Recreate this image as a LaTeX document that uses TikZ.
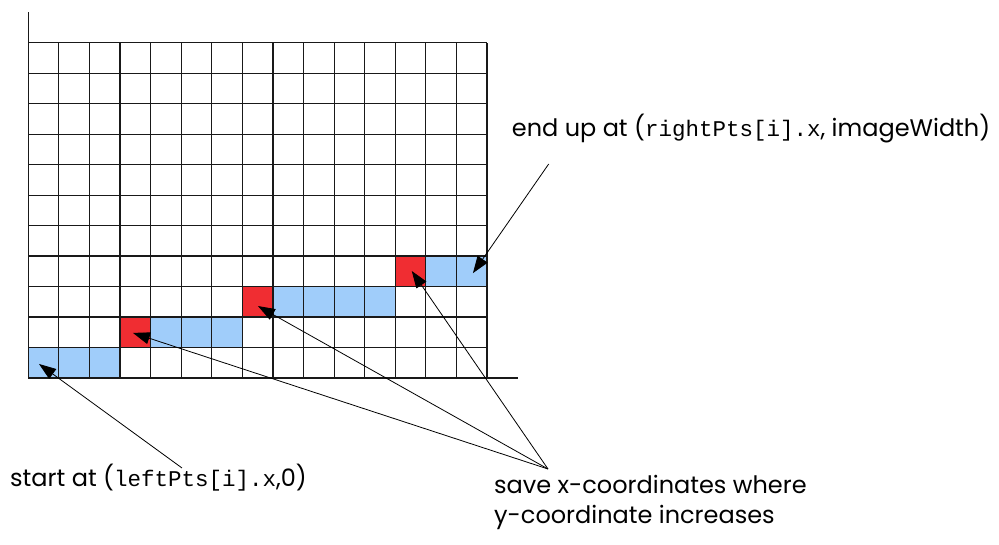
\documentclass[tikz,border=0pt]{standalone}
\usepackage{fontspec}
\setmainfont{Poppins}
\setmonofont{Liberation Mono}
\usetikzlibrary{arrows.meta,positioning}

\definecolor{runBlue}{RGB}{160,205,250}
\definecolor{stepRed}{RGB}{240,45,50}
\newcommand{\code}[1]{{\ttfamily\fontsize{22.5}{30}\selectfont #1}}

\begin{document}
\begin{tikzpicture}[
    x=1pt,y=1pt,
    gridline/.style={line width=1.2pt,black!90},
    axis/.style={line width=1.2pt,black!90},
    pointer/.style={-{Triangle[length=17pt,width=12pt]},line width=0.8pt},
    caption/.style={font=\fontsize{24}{30}\selectfont,inner sep=0pt,align=left},
]
\useasboundingbox (0,0) rectangle (999,545);

%----------------------------------
% Pixel grid
%----------------------------------

\begin{scope}[shift={(28.3,167)},x=30.58pt,y=30.48pt]

% runs of pixels on each row
\foreach \i/\j in {0/0,1/0,2/0,4/1,5/1,6/1,8/2,9/2,10/2,11/2,13/3,14/3}
    \fill[runBlue] (\i,\j) rectangle ++(1,1);

% pixels where the row steps up
\foreach \i/\j in {3/1,7/2,12/3}
    \fill[stepRed] (\i,\j) rectangle ++(1,1);

\foreach \i in {1,...,15}
    \draw[gridline] (\i,0) -- (\i,11);
\foreach \j in {1,...,11}
    \draw[gridline] (0,\j) -- (15,\j);
\draw[axis] (0,0) -- (0,12);
\draw[axis] (0,0) -- (16,0);

\coordinate (startTip) at (0.35,0.46);
\coordinate (endTip) at (14.54,3.44);
\coordinate (stepTipA) at (3.42,1.48);
\coordinate (stepTipB) at (7.51,2.36);
\coordinate (stepTipC) at (12.54,3.51);

\end{scope}

%----------------------------------
% Labels
%----------------------------------

\node[caption,anchor=base west] (startLbl) at (10,58.3)
    {start at (\code{leftPts[i].x},0)};
\node[caption,anchor=base west] (endLbl) at (511.7,408.3)
    {end up at (\code{rightPts[i].x}, imageWidth)};
\node[caption,anchor=base west] (saveLbl) at (494,21.7)
    {save x-coordinates where\\y-coordinate increases};

\coordinate (startTail) at (182,77);
\coordinate (endTail) at (548.7,381);
\coordinate (saveTail) at (548,76);

\draw[pointer] (startTail) -- (startTip);
\draw[pointer] (endTail) -- (endTip);
\draw[pointer] (saveTail) -- (stepTipA);
\draw[pointer] (saveTail) -- (stepTipB);
\draw[pointer] (saveTail) -- (stepTipC);

\end{tikzpicture}
\end{document}
